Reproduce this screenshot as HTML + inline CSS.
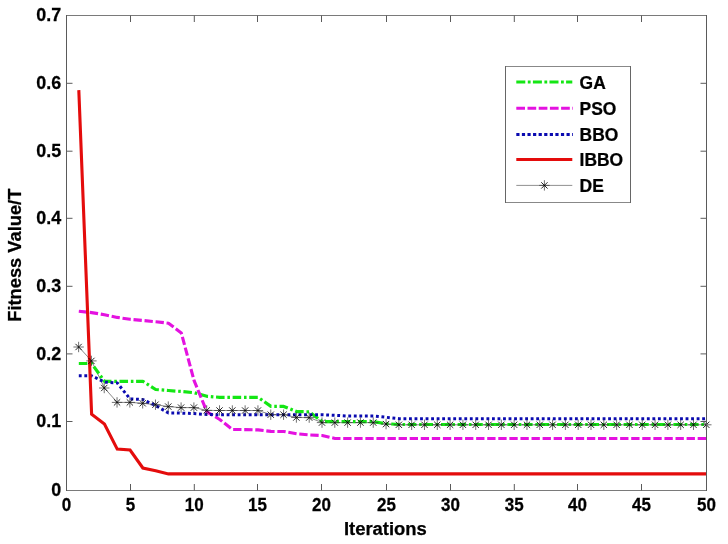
<!DOCTYPE html>
<html><head><meta charset="utf-8"><title>Convergence curves</title>
<style>
html,body{margin:0;padding:0;background:#fff;}
body{width:728px;height:544px;position:relative;overflow:hidden;font-family:"Liberation Sans",sans-serif;}
.t{font-family:"Liberation Sans",sans-serif;font-weight:bold;font-size:18.67px;fill:#000;stroke:#000;stroke-width:0.25px;}
</style></head><body>
<svg width="728" height="544" viewBox="0 0 728 544" style="position:absolute;left:0;top:0;opacity:0.999;will-change:transform">
<rect width="728" height="544" fill="#fff"/>
<polyline points="78.81,347.00 91.62,360.90 104.43,388.00 117.24,402.40 130.05,402.40 142.86,403.30 155.67,404.70 168.48,406.60 181.29,407.60 194.10,407.60 206.91,410.40 219.72,410.50 232.53,410.50 245.34,410.50 258.15,410.50 270.96,414.70 283.77,414.70 296.58,417.50 309.39,417.60 322.20,422.60 335.01,422.60 347.82,422.60 360.63,422.60 373.44,422.60 386.25,424.10 399.06,424.80 411.87,424.80 424.68,424.80 437.49,424.80 450.30,424.80 463.11,424.80 475.92,424.80 488.73,424.80 501.54,424.80 514.35,424.80 527.16,424.80 539.97,424.80 552.78,424.80 565.59,424.80 578.40,424.80 591.21,424.80 604.02,424.80 616.83,424.80 629.64,424.80 642.45,424.80 655.26,424.80 668.07,424.80 680.88,424.80 693.69,424.80 706.50,424.80" fill="none" stroke="#222" stroke-width="0.55"/>
<polyline points="78.81,363.50 91.62,363.50 104.43,381.30 117.24,381.30 130.05,381.30 142.86,381.30 155.67,389.50 168.48,390.50 181.29,391.50 194.10,392.70 206.91,396.30 219.72,397.30 232.53,397.30 245.34,397.30 258.15,397.30 270.96,406.40 283.77,406.40 296.58,411.60 309.39,411.80 322.20,421.60 335.01,421.70 347.82,421.70 360.63,421.70 373.44,421.70 386.25,423.70 399.06,424.50 411.87,424.50 424.68,424.50 437.49,424.50 450.30,424.50 463.11,424.50 475.92,424.50 488.73,424.50 501.54,424.50 514.35,424.50 527.16,424.50 539.97,424.50 552.78,424.50 565.59,424.50 578.40,424.50 591.21,424.50 604.02,424.50 616.83,424.50 629.64,424.50 642.45,424.50 655.26,424.50 668.07,424.50 680.88,424.50 693.69,424.50 706.50,424.50" fill="none" stroke="#14e614" stroke-width="3.2" stroke-dasharray="8.5639 2.7882 2.5891 2.6588" stroke-linejoin="round"/>
<polyline points="78.81,311.20 91.62,312.60 104.43,314.70 117.24,317.40 130.05,319.30 142.86,320.50 155.67,321.70 168.48,323.20 181.29,332.90 194.10,380.70 206.91,411.80 219.72,419.50 232.53,429.50 245.34,429.60 258.15,429.90 270.96,431.40 283.77,431.50 296.58,433.80 309.39,434.90 322.20,435.50 335.01,438.50 347.82,438.50 360.63,438.50 373.44,438.50 386.25,438.50 399.06,438.50 411.87,438.50 424.68,438.50 437.49,438.50 450.30,438.50 463.11,438.50 475.92,438.50 488.73,438.50 501.54,438.50 514.35,438.50 527.16,438.50 539.97,438.50 552.78,438.50 565.59,438.50 578.40,438.50 591.21,438.50 604.02,438.50 616.83,438.50 629.64,438.50 642.45,438.50 655.26,438.50 668.07,438.50 680.88,438.50 693.69,438.50 706.50,438.50" fill="none" stroke="#e412e0" stroke-width="3.1" stroke-dasharray="8.3278 2.7492" stroke-linejoin="round"/>
<polyline points="78.81,375.80 91.62,375.80 104.43,382.10 117.24,382.90 130.05,398.90 142.86,399.50 155.67,405.60 168.48,413.00 181.29,413.10 194.10,413.60 206.91,414.50 219.72,414.70 232.53,414.70 245.34,414.70 258.15,414.70 270.96,414.70 283.77,414.70 296.58,414.70 309.39,414.70 322.20,414.70 335.01,415.30 347.82,416.00 360.63,416.00 373.44,416.00 386.25,417.30 399.06,418.70 411.87,418.70 424.68,418.70 437.49,418.70 450.30,418.70 463.11,418.70 475.92,418.70 488.73,418.70 501.54,418.70 514.35,418.70 527.16,418.70 539.97,418.70 552.78,418.70 565.59,418.70 578.40,418.70 591.21,418.70 604.02,418.70 616.83,418.70 629.64,418.70 642.45,418.70 655.26,418.70 668.07,418.70 680.88,418.70 693.69,418.70 706.50,418.70" fill="none" stroke="#0a0ab0" stroke-width="3" stroke-dasharray="2.8406 2.6911" stroke-linejoin="round"/>
<polyline points="78.81,90.10 91.62,414.30 104.43,424.00 117.24,449.10 130.05,450.00 142.86,468.00 155.67,470.70 168.48,473.90 181.29,473.90 194.10,473.90 206.91,473.90 219.72,473.90 232.53,473.90 245.34,473.90 258.15,473.90 270.96,473.90 283.77,473.90 296.58,473.90 309.39,473.90 322.20,473.90 335.01,473.90 347.82,473.90 360.63,473.90 373.44,473.90 386.25,473.90 399.06,473.90 411.87,473.90 424.68,473.90 437.49,473.90 450.30,473.90 463.11,473.90 475.92,473.90 488.73,473.90 501.54,473.90 514.35,473.90 527.16,473.90 539.97,473.90 552.78,473.90 565.59,473.90 578.40,473.90 591.21,473.90 604.02,473.90 616.83,473.90 629.64,473.90 642.45,473.90 655.26,473.90 668.07,473.90 680.88,473.90 693.69,473.90 706.50,473.90" fill="none" stroke="#e40c0c" stroke-width="3.1" stroke-linejoin="miter"/>
<path d="M73.41 347.00H83.81M78.61 341.80V352.20" stroke="#333" stroke-width="0.7" fill="none"/><path d="M75.46 343.85L81.76 350.15M75.46 350.15L81.76 343.85" stroke="#000" stroke-width="0.85" fill="none"/>
<path d="M86.22 360.90H96.62M91.42 355.70V366.10" stroke="#333" stroke-width="0.7" fill="none"/><path d="M88.27 357.75L94.57 364.05M88.27 364.05L94.57 357.75" stroke="#000" stroke-width="0.85" fill="none"/>
<path d="M99.03 388.00H109.43M104.23 382.80V393.20" stroke="#333" stroke-width="0.7" fill="none"/><path d="M101.08 384.85L107.38 391.15M101.08 391.15L107.38 384.85" stroke="#000" stroke-width="0.85" fill="none"/>
<path d="M111.84 402.40H122.24M117.04 397.20V407.60" stroke="#333" stroke-width="0.7" fill="none"/><path d="M113.89 399.25L120.19 405.55M113.89 405.55L120.19 399.25" stroke="#000" stroke-width="0.85" fill="none"/>
<path d="M124.65 402.40H135.05M129.85 397.20V407.60" stroke="#333" stroke-width="0.7" fill="none"/><path d="M126.70 399.25L133.00 405.55M126.70 405.55L133.00 399.25" stroke="#000" stroke-width="0.85" fill="none"/>
<path d="M137.46 403.30H147.86M142.66 398.10V408.50" stroke="#333" stroke-width="0.7" fill="none"/><path d="M139.51 400.15L145.81 406.45M139.51 406.45L145.81 400.15" stroke="#000" stroke-width="0.85" fill="none"/>
<path d="M150.27 404.70H160.67M155.47 399.50V409.90" stroke="#333" stroke-width="0.7" fill="none"/><path d="M152.32 401.55L158.62 407.85M152.32 407.85L158.62 401.55" stroke="#000" stroke-width="0.85" fill="none"/>
<path d="M163.08 406.60H173.48M168.28 401.40V411.80" stroke="#333" stroke-width="0.7" fill="none"/><path d="M165.13 403.45L171.43 409.75M165.13 409.75L171.43 403.45" stroke="#000" stroke-width="0.85" fill="none"/>
<path d="M175.89 407.60H186.29M181.09 402.40V412.80" stroke="#333" stroke-width="0.7" fill="none"/><path d="M177.94 404.45L184.24 410.75M177.94 410.75L184.24 404.45" stroke="#000" stroke-width="0.85" fill="none"/>
<path d="M188.70 407.60H199.10M193.90 402.40V412.80" stroke="#333" stroke-width="0.7" fill="none"/><path d="M190.75 404.45L197.05 410.75M190.75 410.75L197.05 404.45" stroke="#000" stroke-width="0.85" fill="none"/>
<path d="M201.51 410.40H211.91M206.71 405.20V415.60" stroke="#333" stroke-width="0.7" fill="none"/><path d="M203.56 407.25L209.86 413.55M203.56 413.55L209.86 407.25" stroke="#000" stroke-width="0.85" fill="none"/>
<path d="M214.32 410.50H224.72M219.52 405.30V415.70" stroke="#333" stroke-width="0.7" fill="none"/><path d="M216.37 407.35L222.67 413.65M216.37 413.65L222.67 407.35" stroke="#000" stroke-width="0.85" fill="none"/>
<path d="M227.13 410.50H237.53M232.33 405.30V415.70" stroke="#333" stroke-width="0.7" fill="none"/><path d="M229.18 407.35L235.48 413.65M229.18 413.65L235.48 407.35" stroke="#000" stroke-width="0.85" fill="none"/>
<path d="M239.94 410.50H250.34M245.14 405.30V415.70" stroke="#333" stroke-width="0.7" fill="none"/><path d="M241.99 407.35L248.29 413.65M241.99 413.65L248.29 407.35" stroke="#000" stroke-width="0.85" fill="none"/>
<path d="M252.75 410.50H263.15M257.95 405.30V415.70" stroke="#333" stroke-width="0.7" fill="none"/><path d="M254.80 407.35L261.10 413.65M254.80 413.65L261.10 407.35" stroke="#000" stroke-width="0.85" fill="none"/>
<path d="M265.56 414.70H275.96M270.76 409.50V419.90" stroke="#333" stroke-width="0.7" fill="none"/><path d="M267.61 411.55L273.91 417.85M267.61 417.85L273.91 411.55" stroke="#000" stroke-width="0.85" fill="none"/>
<path d="M278.37 414.70H288.77M283.57 409.50V419.90" stroke="#333" stroke-width="0.7" fill="none"/><path d="M280.42 411.55L286.72 417.85M280.42 417.85L286.72 411.55" stroke="#000" stroke-width="0.85" fill="none"/>
<path d="M291.18 417.50H301.58M296.38 412.30V422.70" stroke="#333" stroke-width="0.7" fill="none"/><path d="M293.23 414.35L299.53 420.65M293.23 420.65L299.53 414.35" stroke="#000" stroke-width="0.85" fill="none"/>
<path d="M303.99 417.60H314.39M309.19 412.40V422.80" stroke="#333" stroke-width="0.7" fill="none"/><path d="M306.04 414.45L312.34 420.75M306.04 420.75L312.34 414.45" stroke="#000" stroke-width="0.85" fill="none"/>
<path d="M316.80 422.60H327.20M322.00 417.40V427.80" stroke="#333" stroke-width="0.7" fill="none"/><path d="M318.85 419.45L325.15 425.75M318.85 425.75L325.15 419.45" stroke="#000" stroke-width="0.85" fill="none"/>
<path d="M329.61 422.60H340.01M334.81 417.40V427.80" stroke="#333" stroke-width="0.7" fill="none"/><path d="M331.66 419.45L337.96 425.75M331.66 425.75L337.96 419.45" stroke="#000" stroke-width="0.85" fill="none"/>
<path d="M342.42 422.60H352.82M347.62 417.40V427.80" stroke="#333" stroke-width="0.7" fill="none"/><path d="M344.47 419.45L350.77 425.75M344.47 425.75L350.77 419.45" stroke="#000" stroke-width="0.85" fill="none"/>
<path d="M355.23 422.60H365.63M360.43 417.40V427.80" stroke="#333" stroke-width="0.7" fill="none"/><path d="M357.28 419.45L363.58 425.75M357.28 425.75L363.58 419.45" stroke="#000" stroke-width="0.85" fill="none"/>
<path d="M368.04 422.60H378.44M373.24 417.40V427.80" stroke="#333" stroke-width="0.7" fill="none"/><path d="M370.09 419.45L376.39 425.75M370.09 425.75L376.39 419.45" stroke="#000" stroke-width="0.85" fill="none"/>
<path d="M380.85 424.10H391.25M386.05 418.90V429.30" stroke="#333" stroke-width="0.7" fill="none"/><path d="M382.90 420.95L389.20 427.25M382.90 427.25L389.20 420.95" stroke="#000" stroke-width="0.85" fill="none"/>
<path d="M393.66 424.80H404.06M398.86 419.60V430.00" stroke="#333" stroke-width="0.7" fill="none"/><path d="M395.71 421.65L402.01 427.95M395.71 427.95L402.01 421.65" stroke="#000" stroke-width="0.85" fill="none"/>
<path d="M406.47 424.80H416.87M411.67 419.60V430.00" stroke="#333" stroke-width="0.7" fill="none"/><path d="M408.52 421.65L414.82 427.95M408.52 427.95L414.82 421.65" stroke="#000" stroke-width="0.85" fill="none"/>
<path d="M419.28 424.80H429.68M424.48 419.60V430.00" stroke="#333" stroke-width="0.7" fill="none"/><path d="M421.33 421.65L427.63 427.95M421.33 427.95L427.63 421.65" stroke="#000" stroke-width="0.85" fill="none"/>
<path d="M432.09 424.80H442.49M437.29 419.60V430.00" stroke="#333" stroke-width="0.7" fill="none"/><path d="M434.14 421.65L440.44 427.95M434.14 427.95L440.44 421.65" stroke="#000" stroke-width="0.85" fill="none"/>
<path d="M444.90 424.80H455.30M450.10 419.60V430.00" stroke="#333" stroke-width="0.7" fill="none"/><path d="M446.95 421.65L453.25 427.95M446.95 427.95L453.25 421.65" stroke="#000" stroke-width="0.85" fill="none"/>
<path d="M457.71 424.80H468.11M462.91 419.60V430.00" stroke="#333" stroke-width="0.7" fill="none"/><path d="M459.76 421.65L466.06 427.95M459.76 427.95L466.06 421.65" stroke="#000" stroke-width="0.85" fill="none"/>
<path d="M470.52 424.80H480.92M475.72 419.60V430.00" stroke="#333" stroke-width="0.7" fill="none"/><path d="M472.57 421.65L478.87 427.95M472.57 427.95L478.87 421.65" stroke="#000" stroke-width="0.85" fill="none"/>
<path d="M483.33 424.80H493.73M488.53 419.60V430.00" stroke="#333" stroke-width="0.7" fill="none"/><path d="M485.38 421.65L491.68 427.95M485.38 427.95L491.68 421.65" stroke="#000" stroke-width="0.85" fill="none"/>
<path d="M496.14 424.80H506.54M501.34 419.60V430.00" stroke="#333" stroke-width="0.7" fill="none"/><path d="M498.19 421.65L504.49 427.95M498.19 427.95L504.49 421.65" stroke="#000" stroke-width="0.85" fill="none"/>
<path d="M508.95 424.80H519.35M514.15 419.60V430.00" stroke="#333" stroke-width="0.7" fill="none"/><path d="M511.00 421.65L517.30 427.95M511.00 427.95L517.30 421.65" stroke="#000" stroke-width="0.85" fill="none"/>
<path d="M521.76 424.80H532.16M526.96 419.60V430.00" stroke="#333" stroke-width="0.7" fill="none"/><path d="M523.81 421.65L530.11 427.95M523.81 427.95L530.11 421.65" stroke="#000" stroke-width="0.85" fill="none"/>
<path d="M534.57 424.80H544.97M539.77 419.60V430.00" stroke="#333" stroke-width="0.7" fill="none"/><path d="M536.62 421.65L542.92 427.95M536.62 427.95L542.92 421.65" stroke="#000" stroke-width="0.85" fill="none"/>
<path d="M547.38 424.80H557.78M552.58 419.60V430.00" stroke="#333" stroke-width="0.7" fill="none"/><path d="M549.43 421.65L555.73 427.95M549.43 427.95L555.73 421.65" stroke="#000" stroke-width="0.85" fill="none"/>
<path d="M560.19 424.80H570.59M565.39 419.60V430.00" stroke="#333" stroke-width="0.7" fill="none"/><path d="M562.24 421.65L568.54 427.95M562.24 427.95L568.54 421.65" stroke="#000" stroke-width="0.85" fill="none"/>
<path d="M573.00 424.80H583.40M578.20 419.60V430.00" stroke="#333" stroke-width="0.7" fill="none"/><path d="M575.05 421.65L581.35 427.95M575.05 427.95L581.35 421.65" stroke="#000" stroke-width="0.85" fill="none"/>
<path d="M585.81 424.80H596.21M591.01 419.60V430.00" stroke="#333" stroke-width="0.7" fill="none"/><path d="M587.86 421.65L594.16 427.95M587.86 427.95L594.16 421.65" stroke="#000" stroke-width="0.85" fill="none"/>
<path d="M598.62 424.80H609.02M603.82 419.60V430.00" stroke="#333" stroke-width="0.7" fill="none"/><path d="M600.67 421.65L606.97 427.95M600.67 427.95L606.97 421.65" stroke="#000" stroke-width="0.85" fill="none"/>
<path d="M611.43 424.80H621.83M616.63 419.60V430.00" stroke="#333" stroke-width="0.7" fill="none"/><path d="M613.48 421.65L619.78 427.95M613.48 427.95L619.78 421.65" stroke="#000" stroke-width="0.85" fill="none"/>
<path d="M624.24 424.80H634.64M629.44 419.60V430.00" stroke="#333" stroke-width="0.7" fill="none"/><path d="M626.29 421.65L632.59 427.95M626.29 427.95L632.59 421.65" stroke="#000" stroke-width="0.85" fill="none"/>
<path d="M637.05 424.80H647.45M642.25 419.60V430.00" stroke="#333" stroke-width="0.7" fill="none"/><path d="M639.10 421.65L645.40 427.95M639.10 427.95L645.40 421.65" stroke="#000" stroke-width="0.85" fill="none"/>
<path d="M649.86 424.80H660.26M655.06 419.60V430.00" stroke="#333" stroke-width="0.7" fill="none"/><path d="M651.91 421.65L658.21 427.95M651.91 427.95L658.21 421.65" stroke="#000" stroke-width="0.85" fill="none"/>
<path d="M662.67 424.80H673.07M667.87 419.60V430.00" stroke="#333" stroke-width="0.7" fill="none"/><path d="M664.72 421.65L671.02 427.95M664.72 427.95L671.02 421.65" stroke="#000" stroke-width="0.85" fill="none"/>
<path d="M675.48 424.80H685.88M680.68 419.60V430.00" stroke="#333" stroke-width="0.7" fill="none"/><path d="M677.53 421.65L683.83 427.95M677.53 427.95L683.83 421.65" stroke="#000" stroke-width="0.85" fill="none"/>
<path d="M688.29 424.80H698.69M693.49 419.60V430.00" stroke="#333" stroke-width="0.7" fill="none"/><path d="M690.34 421.65L696.64 427.95M690.34 427.95L696.64 421.65" stroke="#000" stroke-width="0.85" fill="none"/>
<path d="M701.10 424.80H711.50M706.30 419.60V430.00" stroke="#333" stroke-width="0.7" fill="none"/><path d="M703.15 421.65L709.45 427.95M703.15 427.95L709.45 421.65" stroke="#000" stroke-width="0.85" fill="none"/>
<path d="M66.0 15.5H707.0M66.0 490.5H707.0" stroke="#7a7a7a" stroke-width="1" fill="none"/>
<path d="M66.5 15.0V491.0M706.5 15.0V491.0" stroke="#5a5a5a" stroke-width="1" fill="none"/>
<text transform="translate(66.50 511.45) scale(0.95 1)" text-anchor="middle" class="t" style="font-size:17.9px">0</text>
<path d="M130.50 490.5V484.0M130.50 15.5V22.0" stroke="#5a5a5a" stroke-width="1"/>
<text transform="translate(130.50 511.45) scale(0.95 1)" text-anchor="middle" class="t" style="font-size:17.9px">5</text>
<path d="M194.30 490.5V484.0M194.30 15.5V22.0" stroke="#5a5a5a" stroke-width="1"/>
<text transform="translate(194.30 511.45) scale(0.95 1)" text-anchor="middle" class="t" style="font-size:17.9px">10</text>
<path d="M257.50 490.5V484.0M257.50 15.5V22.0" stroke="#5a5a5a" stroke-width="1"/>
<text transform="translate(257.50 511.45) scale(0.95 1)" text-anchor="middle" class="t" style="font-size:17.9px">15</text>
<path d="M321.50 490.5V484.0M321.50 15.5V22.0" stroke="#5a5a5a" stroke-width="1"/>
<text transform="translate(321.50 511.45) scale(0.95 1)" text-anchor="middle" class="t" style="font-size:17.9px">20</text>
<path d="M386.50 490.5V484.0M386.50 15.5V22.0" stroke="#5a5a5a" stroke-width="1"/>
<text transform="translate(386.50 511.45) scale(0.95 1)" text-anchor="middle" class="t" style="font-size:17.9px">25</text>
<path d="M450.50 490.5V484.0M450.50 15.5V22.0" stroke="#5a5a5a" stroke-width="1"/>
<text transform="translate(450.50 511.45) scale(0.95 1)" text-anchor="middle" class="t" style="font-size:17.9px">30</text>
<path d="M514.30 490.5V484.0M514.30 15.5V22.0" stroke="#5a5a5a" stroke-width="1"/>
<text transform="translate(514.30 511.45) scale(0.95 1)" text-anchor="middle" class="t" style="font-size:17.9px">35</text>
<path d="M577.50 490.5V484.0M577.50 15.5V22.0" stroke="#5a5a5a" stroke-width="1"/>
<text transform="translate(577.50 511.45) scale(0.95 1)" text-anchor="middle" class="t" style="font-size:17.9px">40</text>
<path d="M641.50 490.5V484.0M641.50 15.5V22.0" stroke="#5a5a5a" stroke-width="1"/>
<text transform="translate(641.50 511.45) scale(0.95 1)" text-anchor="middle" class="t" style="font-size:17.9px">45</text>
<text transform="translate(706.50 511.45) scale(0.95 1)" text-anchor="middle" class="t" style="font-size:17.9px">50</text>
<text transform="translate(61.2 496.30) scale(0.96 1)" text-anchor="end" class="t">0</text>
<path d="M66.5 421.50H72.5M706.5 421.50H700.5" stroke="#5c5c5c" stroke-width="1"/>
<text transform="translate(61.2 427.30) scale(0.96 1)" text-anchor="end" class="t">0.1</text>
<path d="M66.5 353.90H72.5M706.5 353.90H700.5" stroke="#5c5c5c" stroke-width="1"/>
<text transform="translate(61.2 359.70) scale(0.96 1)" text-anchor="end" class="t">0.2</text>
<path d="M66.5 286.30H72.5M706.5 286.30H700.5" stroke="#5c5c5c" stroke-width="1"/>
<text transform="translate(61.2 292.10) scale(0.96 1)" text-anchor="end" class="t">0.3</text>
<path d="M66.5 218.30H72.5M706.5 218.30H700.5" stroke="#5c5c5c" stroke-width="1"/>
<text transform="translate(61.2 224.10) scale(0.96 1)" text-anchor="end" class="t">0.4</text>
<path d="M66.5 151.20H72.5M706.5 151.20H700.5" stroke="#5c5c5c" stroke-width="1"/>
<text transform="translate(61.2 157.00) scale(0.96 1)" text-anchor="end" class="t">0.5</text>
<path d="M66.5 83.30H72.5M706.5 83.30H700.5" stroke="#5c5c5c" stroke-width="1"/>
<text transform="translate(61.2 89.10) scale(0.96 1)" text-anchor="end" class="t">0.6</text>
<text transform="translate(61.2 21.30) scale(0.96 1)" text-anchor="end" class="t">0.7</text>
<text x="385.4" y="535.0" text-anchor="middle" class="t" style="font-size:18.45px">Iterations</text>
<text transform="translate(21.2 255.2) rotate(-90)" text-anchor="middle" textLength="133" lengthAdjust="spacingAndGlyphs" class="t">Fitness Value/T</text>
<rect x="505.5" y="66.5" width="125.0" height="136.0" fill="#fff" stroke="none"/>
<path d="M505.0 66.5H631.0M505.0 202.5H631.0" stroke="#888" stroke-width="1" fill="none"/>
<path d="M505.5 66.0V203.0M630.5 66.0V203.0" stroke="#666" stroke-width="1" fill="none"/>
<path d="M516.3 82.1H572.3" stroke="#14e614" stroke-width="3" stroke-dasharray="9 2.5 2.8 2.3"/>
<path d="M516.3 108.3H572.9" stroke="#e412e0" stroke-width="3" stroke-dasharray="8.7 2.5"/>
<path d="M516.3 134.6H572.9" stroke="#0a0ab0" stroke-width="3" stroke-dasharray="3.2 2.38"/>
<path d="M516.3 159.5H572.3" stroke="#e40c0c" stroke-width="3"/>
<path d="M516.3 185.4H572.3" stroke="#333" stroke-width="0.55"/>
<path d="M539.20 185.40H549.60M544.40 180.20V190.60" stroke="#333" stroke-width="0.7" fill="none"/><path d="M541.25 182.25L547.55 188.55M541.25 188.55L547.55 182.25" stroke="#000" stroke-width="0.85" fill="none"/>
<text transform="translate(579.6 88.80) scale(0.99 1)" class="t" style="font-size:17.6px">GA</text>
<text transform="translate(579.6 115.00) scale(0.99 1)" class="t" style="font-size:17.6px">PSO</text>
<text transform="translate(579.6 141.30) scale(0.99 1)" class="t" style="font-size:17.6px">BBO</text>
<text transform="translate(579.6 166.20) scale(0.99 1)" class="t" style="font-size:17.6px">IBBO</text>
<text transform="translate(579.6 192.10) scale(0.99 1)" class="t" style="font-size:17.6px">DE</text>
</svg>
</body></html>
